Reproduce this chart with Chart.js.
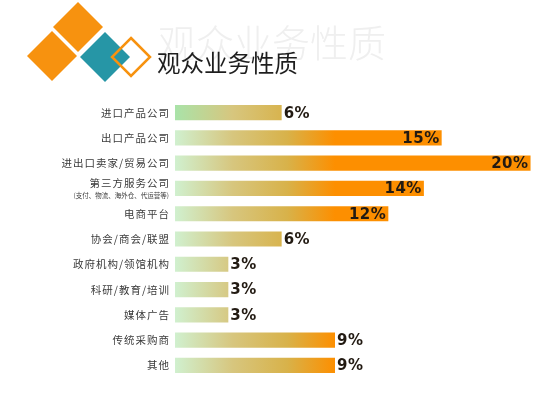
<!DOCTYPE html>
<html lang="zh">
  <head>
    <meta charset="utf-8" />
    <title>观众业务性质</title>
    <style>
      * {
        margin: 0;
        padding: 0;
      }
      body {
        background: #fff;
      }
      .chartBox {
        width: 560px;
        height: 395px;
      }
    </style>
  </head>
  <body>
    <div class="chartBox">
      <canvas id="myChart" width="560" height="395"></canvas>
    </div>

    <script src="https://cdn.jsdelivr.net/npm/chart.js"></script>

    <script>
      // data block
      const categories = [
        "进口产品公司",
        "出口产品公司",
        "进出口卖家/贸易公司",
        "第三方服务公司",
        "电商平台",
        "协会/商会/联盟",
        "政府机构/领馆机构",
        "科研/教育/培训",
        "媒体广告",
        "传统采购商",
        "其他",
      ];
      const subLabels = ["", "", "", "(支付、物流、海外仓、代运营等)", "", "", "", "", "", "", ""];
      const shares = [6, 15, 20, 14, 12, 6, 3, 3, 3, 9, 9];

      const CJK = '"Noto Sans CJK SC", sans-serif';

      // gradient from pale green to orange, measured from the bar start
      function barGradient(ctx) {
        const chart = ctx.chart;
        if (!chart.chartArea) return "#f7920f";
        const x0 = chart.scales.x.getPixelForValue(0);
        const g = chart.ctx.createLinearGradient(x0, 0, x0 + 160, 0);
        g.addColorStop(0, ctx.dataIndex === 0 ? "#a9e3a9" : "#d0f0cf");
        g.addColorStop(0.36, "#d7c67e");
        g.addColorStop(0.7, "#d8b24a");
        g.addColorStop(1, "#fd8f00");
        return g;
      }

      // title + decoration block
      const header = {
        id: "header",
        beforeDraw(chart) {
          const { ctx } = chart;
          ctx.save();
          // faded watermark
          ctx.font = "300 38px " + CJK;
          ctx.fillStyle = "#efefef";
          ctx.textBaseline = "middle";
          ctx.fillText("观众业务性质", 158, 43);

          // diamonds
          const diamond = (cx, cy, r) => {
            ctx.beginPath();
            ctx.moveTo(cx, cy - r);
            ctx.lineTo(cx + r, cy);
            ctx.lineTo(cx, cy + r);
            ctx.lineTo(cx - r, cy);
            ctx.closePath();
          };
          ctx.fillStyle = "#f7920f";
          diamond(78, 27, 25);
          ctx.fill();
          diamond(52, 56, 25);
          ctx.fill();
          ctx.fillStyle = "#2696a6";
          diamond(105, 57, 25);
          ctx.fill();
          ctx.strokeStyle = "#f7920f";
          ctx.lineWidth = 2.5;
          diamond(131, 57, 19);
          ctx.stroke();

          // title
          ctx.font = "23.5px " + CJK;
          ctx.fillStyle = "#1e1e1e";
          ctx.fillText("观众业务性质", 157, 63);
          ctx.restore();
        },
      };

      // category + value labels block
      const barLabels = {
        id: "barLabels",
        afterDatasetsDraw(chart) {
          const { ctx, scales } = chart;
          ctx.save();
          ctx.textBaseline = "middle";
          categories.forEach((name, i) => {
            const y = scales.y.getPixelForValue(i);
            ctx.fillStyle = "#3a3a3a";
            ctx.textAlign = "right";
            ctx.letterSpacing = "1px";
            ctx.font = "10.5px " + CJK;
            if (subLabels[i]) {
              ctx.fillText(name, 170, y - 5);
              ctx.letterSpacing = "0px";
              ctx.font = "6.5px " + CJK;
              ctx.fillText(subLabels[i], 169, y + 7);
            } else {
              ctx.fillText(name, 170, y);
            }

            // value text
            const xEnd = scales.x.getPixelForValue(shares[i]);
            ctx.letterSpacing = "0.5px";
            ctx.font = "bold 15px 'DejaVu Sans', sans-serif";
            ctx.fillStyle = "#221a12";
            if (shares[i] >= 12) {
              ctx.textAlign = "right";
              ctx.fillText(shares[i] + "%", xEnd - 2, y + 1);
            } else {
              ctx.textAlign = "left";
              ctx.fillText(shares[i] + "%", xEnd + 2, y + 1);
            }
          });
          ctx.restore();
        },
      };

      // config block
      const config = {
        type: "bar",
        data: {
          labels: categories,
          datasets: [
            {
              data: shares,
              backgroundColor: barGradient,
              borderWidth: 0,
              barPercentage: 0.6,
              categoryPercentage: 1,
            },
          ],
        },
        options: {
          indexAxis: "y",
          responsive: false,
          animation: false,
          layout: {
            padding: { left: 175, right: 17, top: 100, bottom: 17 },
          },
          plugins: {
            legend: { display: false },
            tooltip: { enabled: false },
          },
          scales: {
            x: { display: false, min: 0, max: 20.7 },
            y: { display: false },
          },
        },
        plugins: [header, barLabels],
      };

      // init render block
      const myChart = new Chart(document.getElementById("myChart"), config);
    </script>
  </body>
</html>
